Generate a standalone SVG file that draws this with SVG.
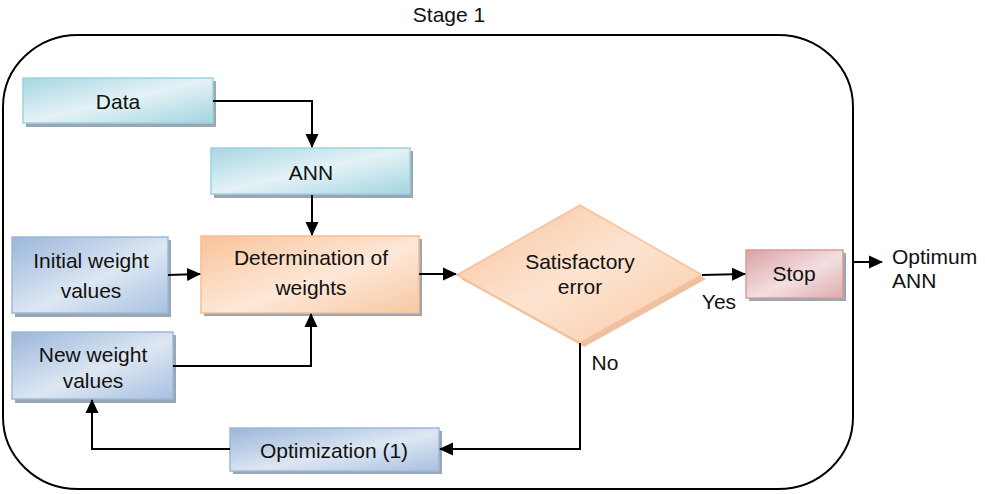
<svg xmlns="http://www.w3.org/2000/svg" width="985" height="494" viewBox="0 0 985 494">
<defs>
<linearGradient id="gTeal" x1="0" y1="0" x2="1" y2="1">
<stop offset="0" stop-color="#a6d6e3"/><stop offset="0.5" stop-color="#e4f2f6"/><stop offset="1" stop-color="#a3d4e1"/>
</linearGradient>
<linearGradient id="gBlue" x1="0" y1="0" x2="1" y2="1">
<stop offset="0" stop-color="#9ab6da"/><stop offset="0.55" stop-color="#dde7f3"/><stop offset="1" stop-color="#a8c0e0"/>
</linearGradient>
<linearGradient id="gOrange" x1="0" y1="0" x2="1" y2="1">
<stop offset="0" stop-color="#f9c39a"/><stop offset="0.55" stop-color="#fde8d8"/><stop offset="1" stop-color="#f8c8a2"/>
</linearGradient>
<linearGradient id="gDiamond" x1="0" y1="0" x2="1" y2="1">
<stop offset="0" stop-color="#f7c29b"/><stop offset="0.5" stop-color="#fde4d1"/><stop offset="1" stop-color="#f8c8a3"/>
</linearGradient>
<linearGradient id="gPink" x1="0" y1="0" x2="1" y2="1">
<stop offset="0" stop-color="#dba1a3"/><stop offset="0.55" stop-color="#f3dfe0"/><stop offset="1" stop-color="#dfaaac"/>
</linearGradient>
<marker id="arr" markerWidth="14" markerHeight="14" refX="13" refY="7" orient="auto" markerUnits="userSpaceOnUse">
<path d="M0,0.5 L14,7 L0,13.5 Z" fill="#000"/>
</marker>
</defs>
<style>
text{font-family:"Liberation Sans",Arial,sans-serif;font-size:21px;fill:#111;text-anchor:middle;dominant-baseline:central}
.sh{fill:#9aa6b2}
.teal{fill:url(#gTeal);stroke:#9fd2de;stroke-width:1.5}
.blue{fill:url(#gBlue);stroke:#9db8da;stroke-width:1.5}
.orange{fill:url(#gOrange);stroke:#f6bd93;stroke-width:1.5}
.pink{fill:url(#gPink);stroke:#d99a9c;stroke-width:1.5}
.conn{fill:none;stroke:#000;stroke-width:2}
</style>
<g id="stage">
<rect x="3" y="35" width="850" height="454" rx="75" ry="72" fill="none" stroke="#000" stroke-width="2"/>
<text x="449" y="14">Stage 1</text>
</g>
<g id="data">
<rect class="sh" x="26" y="81" width="190" height="46"/>
<rect class="teal" x="23" y="78" width="190" height="45"/>
<text x="118" y="101">Data</text>
</g>
<g id="ann">
<rect class="sh" x="214" y="151" width="199" height="47"/>
<rect class="teal" x="211" y="148" width="199" height="46"/>
<text x="311" y="172">ANN</text>
</g>
<g id="initial">
<rect class="sh" x="15" y="240" width="156" height="77"/>
<rect class="blue" x="12" y="237" width="156" height="76"/>
<text x="91" y="260">Initial weight</text>
<text x="91" y="290">values</text>
</g>
<g id="determination">
<rect class="sh" x="204" y="239" width="218" height="77"/>
<rect class="orange" x="201" y="236" width="218" height="77"/>
<text x="311" y="257">Determination of</text>
<text x="311" y="287">weights</text>
</g>
<g id="newweight">
<rect class="sh" x="15" y="335" width="161" height="68"/>
<rect class="blue" x="12" y="332" width="161" height="67"/>
<text x="93" y="354">New weight</text>
<text x="93" y="380">values</text>
</g>
<g id="satisfactory">
<polygon points="461,279 584,209 706,279 584,347" fill="#e8b08a" opacity="0.8"/>
<polygon points="457,275 580,205 702,275 580,343" fill="url(#gDiamond)" stroke="#f6c19a" stroke-width="1.5"/>
<text x="580" y="261">Satisfactory</text>
<text x="580" y="286">error</text>
</g>
<g id="stop">
<rect class="sh" x="749" y="253" width="97" height="48"/>
<rect class="pink" x="746" y="250" width="97" height="48"/>
<text x="794" y="273">Stop</text>
</g>
<g id="optimization">
<rect class="sh" x="233" y="431" width="209" height="43"/>
<rect class="blue" x="230" y="428" width="209" height="43"/>
<text x="334" y="450">Optimization (1)</text>
</g>
<g id="output">
<text x="892" y="256" style="text-anchor:start">Optimum</text>
<text x="892" y="280" style="text-anchor:start">ANN</text>
</g>
<g id="connectors">
<path class="conn" d="M213,101 H312 V147" marker-end="url(#arr)"/>
<path class="conn" d="M312,195 V235" marker-end="url(#arr)"/>
<path class="conn" d="M168,275 L200,274" marker-end="url(#arr)"/>
<path class="conn" d="M173,366 H311 V314" marker-end="url(#arr)"/>
<path class="conn" d="M419,274 H456" marker-end="url(#arr)"/>
<path class="conn" d="M702,275 L745,274" marker-end="url(#arr)"/>
<path class="conn" d="M580,343 V449 H440" marker-end="url(#arr)"/>
<path class="conn" d="M230,449 H92 V400" marker-end="url(#arr)"/>
<path class="conn" d="M853,262 H882" marker-end="url(#arr)"/>
<text x="719" y="301">Yes</text>
<text x="605" y="362">No</text>
</g>
</svg>
